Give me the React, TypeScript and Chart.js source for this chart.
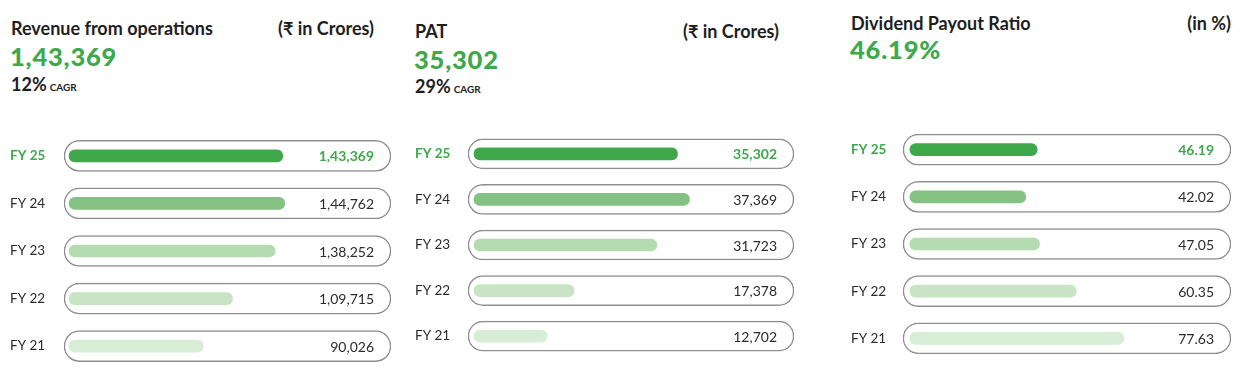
import React, { useEffect, useRef } from "react";
import { Chart, registerables } from "chart.js";

Chart.register(...registerables);

// ---------- data ----------
const years = ["FY 25", "FY 24", "FY 23", "FY 22", "FY 21"];
const revenue = [143369, 144762, 138252, 109715, 90026];
const pat = [35302, 37369, 31723, 17378, 12702];
const dividendPayout = [46.19, 42.02, 47.05, 60.35, 77.63];

const revenueHeadline = "1,43,369";
const revenueCagr = "12%";
const patHeadline = "35,302";
const patCagr = "29%";
const dividendHeadline = "46.19%";

// ---------- styles ----------
const FONT = "Lato, 'Noto Sans', sans-serif";
const GREEN = "#3ea84b";
const TEXT = "#2b2b2b";
const barColors = ["#3ea84b", "#86c184", "#b4dab0", "#c8e4c4", "#d8edd5"];
const TICK_SIZE = 13.5;
const TICK_PAD = (TICK_SIZE * 1.2) / 2; // half label height Chart.js reserves above/below

function indianFormat(n: number): string {
  const s = Math.round(n).toString();
  if (s.length <= 3) return s;
  const last3 = s.slice(-3);
  let rest = s.slice(0, -3);
  const parts: string[] = [];
  while (rest.length > 2) {
    parts.unshift(rest.slice(-2));
    rest = rest.slice(0, -2);
  }
  if (rest.length) parts.unshift(rest);
  return parts.join(",") + "," + last3;
}

type PanelProps = {
  values: number[];
  format: (v: number) => string;
  min: number;
  max: number;
  left: number;
  areaTop: number;
  width: number;
  areaHeight: number;
  axisWidth: number;
  trackThickness: number;
};

function BarPanel(p: PanelProps) {
  const ref = useRef<HTMLCanvasElement | null>(null);
  const top = p.areaTop - TICK_PAD;
  const height = Math.round(p.areaHeight + 2 * TICK_PAD);
  useEffect(() => {
    if (!ref.current) return;
    const valueLabels = {
      id: "valueLabels",
      afterDatasetsDraw(chart: any) {
        const ctx = chart.ctx;
        const yScale = chart.scales.y;
        ctx.save();
        ctx.textAlign = "right";
        ctx.textBaseline = "middle";
        p.values.forEach((v, i) => {
          const y = yScale.getPixelForValue(i);
          ctx.font = (i === 0 ? "bold " : "") + "14px " + FONT;
          ctx.fillStyle = i === 0 ? GREEN : TEXT;
          ctx.fillText(p.format(v), chart.chartArea.right - 17, y + 1);
        });
        ctx.restore();
      },
    };
    const chart = new Chart(ref.current, {
      type: "bar",
      data: {
        labels: years,
        datasets: [
          {
            data: p.values,
            backgroundColor: barColors,
            barThickness: 12,
            borderRadius: 6,
            borderSkipped: false,
            grouped: false,
            order: 1,
          } as any,
          {
            data: years.map(() => [p.min, p.max]),
            backgroundColor: "#ffffff",
            borderColor: "#8f8f8f",
            borderWidth: 1.5,
            barThickness: p.trackThickness,
            borderRadius: 16,
            borderSkipped: false,
            grouped: false,
            order: 2,
          } as any,
        ],
      },
      options: {
        indexAxis: "y",
        animation: false,
        responsive: false,
        events: [],
        layout: { padding: { left: 0, right: 1, top: 0, bottom: 0 } },
        plugins: {
          legend: { display: false },
          tooltip: { enabled: false },
        },
        scales: {
          x: { display: false, min: p.min, max: p.max },
          y: {
            grid: { display: false },
            border: { display: false },
            ticks: {
              crossAlign: "far",
              padding: 0,
              color: (c: any) => (c.index === 0 ? GREEN : TEXT),
              font: (c: any) => ({
                family: FONT,
                size: TICK_SIZE,
                weight: c.index === 0 ? "bold" : "normal",
              }),
            },
            afterFit: (s: any) => {
              s.width = p.axisWidth;
            },
          },
        },
      } as any,
      plugins: [valueLabels],
    });
    return () => chart.destroy();
  }, []);
  return (
    <canvas
      ref={ref}
      width={p.width}
      height={height}
      style={{ position: "absolute", left: p.left, top, width: p.width, height }}
    />
  );
}

const abs = (left: number, top: number, extra: React.CSSProperties = {}): React.CSSProperties => ({
  position: "absolute",
  left,
  top,
  lineHeight: 1,
  whiteSpace: "nowrap",
  fontFamily: FONT,
  ...extra,
});

const titleStyle: React.CSSProperties = { fontSize: 18, fontWeight: 700, color: "#1e1e1e" };
const bigStyle: React.CSSProperties = { fontSize: 25.5, fontWeight: 900, color: GREEN, letterSpacing: 0.8 };
const cagrStyle: React.CSSProperties = { fontSize: 18, fontWeight: 700, color: "#1e1e1e" };

function Cagr({ pct }: { pct: string }) {
  return (
    <span style={cagrStyle}>
      {pct}
      <span style={{ fontSize: 10, fontWeight: 700, marginLeft: 3 }}>CAGR</span>
    </span>
  );
}

export default function App() {
  return (
    <div
      style={{
        position: "absolute",
        left: 0,
        top: 0,
        width: 1246,
        height: 375,
        background: "#ffffff",
        overflow: "hidden",
      }}
    >
      {/* Panel 1 */}
      <div style={abs(11, 19, titleStyle)}>Revenue from operations</div>
      <div style={{ ...abs(0, 19, titleStyle), left: "auto", right: 1246 - 374 }}>(₹ in Crores)</div>
      <div style={abs(10, 44, bigStyle)}>{revenueHeadline}</div>
      <div style={abs(11, 75)}>
        <Cagr pct={revenueCagr} />
      </div>

      {/* Panel 2 */}
      <div style={abs(415, 22, titleStyle)}>PAT</div>
      <div style={{ ...abs(0, 22, titleStyle), left: "auto", right: 1246 - 779 }}>(₹ in Crores)</div>
      <div style={abs(414, 47, bigStyle)}>{patHeadline}</div>
      <div style={abs(415, 77)}>
        <Cagr pct={patCagr} />
      </div>

      {/* Panel 3 */}
      <div style={abs(851, 14, titleStyle)}>Dividend Payout Ratio</div>
      <div style={{ ...abs(0, 14, titleStyle), left: "auto", right: 1246 - 1231 }}>(in %)</div>
      <div style={abs(850, 37, bigStyle)}>{dividendHeadline}</div>

      <BarPanel
        values={revenue}
        format={indianFormat}
        min={-3400}
        max={216000}
        left={10}
        areaTop={131.7}
        width={382}
        areaHeight={238}
        axisWidth={54}
        trackThickness={31}
      />
      <BarPanel
        values={pat}
        format={indianFormat}
        min={-1040}
        max={55500}
        left={415}
        areaTop={130.8}
        width={380}
        areaHeight={227.5}
        axisWidth={53}
        trackThickness={30}
      />
      <BarPanel
        values={dividendPayout}
        format={(v) => v.toFixed(2)}
        min={-2.5}
        max={116.5}
        left={851}
        areaTop={126.4}
        width={381}
        areaHeight={236.2}
        axisWidth={52}
        trackThickness={31}
      />
    </div>
  );
}
